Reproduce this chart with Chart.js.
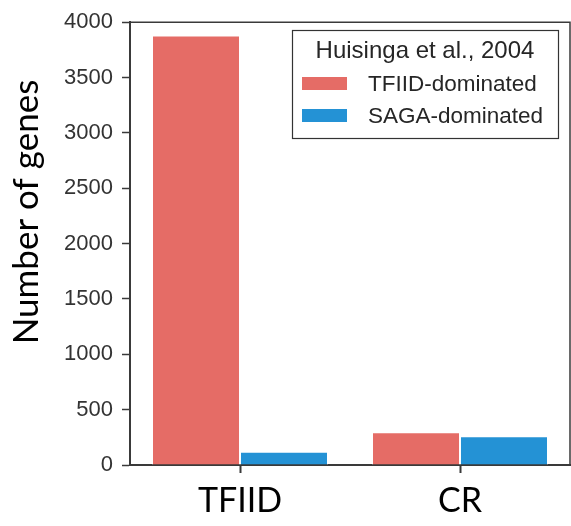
<!DOCTYPE html>
<html>
<head>
<meta charset="utf-8">
<script src="https://cdn.jsdelivr.net/npm/chart.js@4.4.0/dist/chart.umd.min.js"></script>
<style>
  html, body { margin: 0; padding: 0; background: #ffffff; }
  #wrap { width: 571px; height: 526px; }
</style>
</head>
<body>
<div id="wrap"><canvas id="c" width="571" height="526"></canvas></div>
<script>
const categories = ["TFIID", "CR"];
const tfiidDominated = [3880, 295];
const sagaDominated = [120, 260];
const seriesLabels = ["TFIID-dominated", "SAGA-dominated"];
const legendTitle = "Huisinga et al., 2004";
const yTicks = [0, 500, 1000, 1500, 2000, 2500, 3000, 3500, 4000];
const yTitle = "Number of genes";

const RED = "#e56c66";
const BLUE = "#2492d5";
const AXIS = "#3a3a3a";

const frameAndLegend = {
  id: "frameAndLegend",
  afterDraw(chart) {
    const ctx = chart.ctx;
    const a = chart.chartArea;
    ctx.save();
    // top and right spines
    ctx.strokeStyle = AXIS;
    ctx.lineWidth = 1.5;
    ctx.beginPath();
    ctx.moveTo(a.left, a.top);
    ctx.lineTo(a.right, a.top);
    ctx.lineTo(a.right, a.bottom);
    ctx.stroke();

    // y-axis title
    ctx.save();
    ctx.translate(38, 212);
    ctx.rotate(-Math.PI / 2);
    ctx.fillStyle = "#000000";
    ctx.font = "35px Lato, sans-serif";
    ctx.textAlign = "center";
    ctx.textBaseline = "alphabetic";
    ctx.fillText(yTitle, 0, 0);
    ctx.restore();

    // legend box
    const bx = 292, by = 30, bw = 266, bh = 108;
    ctx.fillStyle = "#ffffff";
    ctx.fillRect(bx, by, bw, bh);
    ctx.strokeStyle = "#333333";
    ctx.lineWidth = 1.2;
    ctx.strokeRect(bx + 0.5, by + 0.5, bw, bh);

    ctx.fillStyle = "#262626";
    ctx.font = "24px 'Liberation Sans', Arial, sans-serif";
    ctx.textAlign = "center";
    ctx.textBaseline = "alphabetic";
    ctx.fillText(legendTitle, bx + bw / 2, 58);

    const rows = [90, 122];
    chart.data.datasets.forEach((ds, i) => {
      ctx.fillStyle = ds.backgroundColor;
      ctx.fillRect(302, rows[i] - 13, 45, 13);
      ctx.fillStyle = "#262626";
      ctx.font = "22.5px 'Liberation Sans', Arial, sans-serif";
      ctx.textAlign = "left";
      ctx.fillText(ds.label, 368, rows[i] + 1);
    });
    ctx.restore();
  }
};

new Chart(document.getElementById("c"), {
  type: "bar",
  data: {
    labels: categories,
    datasets: [
      { label: seriesLabels[0], data: tfiidDominated, backgroundColor: RED, borderColor: "#ffffff", borderWidth: 1 },
      { label: seriesLabels[1], data: sagaDominated, backgroundColor: BLUE, borderColor: "#ffffff", borderWidth: 1 }
    ]
  },
  options: {
    responsive: false,
    animation: false,
    devicePixelRatio: 1,
    layout: { autoPadding: false, padding: { top: 17, right: 1, left: 0, bottom: 0 } },
    plugins: { legend: { display: false }, tooltip: { enabled: false } },
    datasets: { bar: { categoryPercentage: 0.8, barPercentage: 1.0 } },
    scales: {
      x: {
        grid: { offset: false, drawOnChartArea: false, drawTicks: true, tickLength: 8, tickWidth: 2, tickColor: AXIS },
        border: { display: true, color: AXIS, width: 2 },
        ticks: { color: "#000000", padding: 8, font: { family: "Lato", size: 34 } },
        afterFit(s) { s.height = 61; }
      },
      y: {
        min: 0, max: 4000,
        afterBuildTicks(s) { s.ticks = yTicks.map(v => ({ value: v })); },
        grid: { drawOnChartArea: false, drawTicks: true, tickLength: 8, tickWidth: 1.5, tickColor: AXIS },
        border: { display: true, color: AXIS, width: 2 },
        ticks: { color: "#333333", padding: 9, font: { family: "'Liberation Sans', Arial", size: 22 }, callback: v => String(v) },
        title: { display: false },
        afterFit(s) { s.width = 130; }
      }
    }
  },
  plugins: [frameAndLegend]
});
</script>
</body>
</html>
